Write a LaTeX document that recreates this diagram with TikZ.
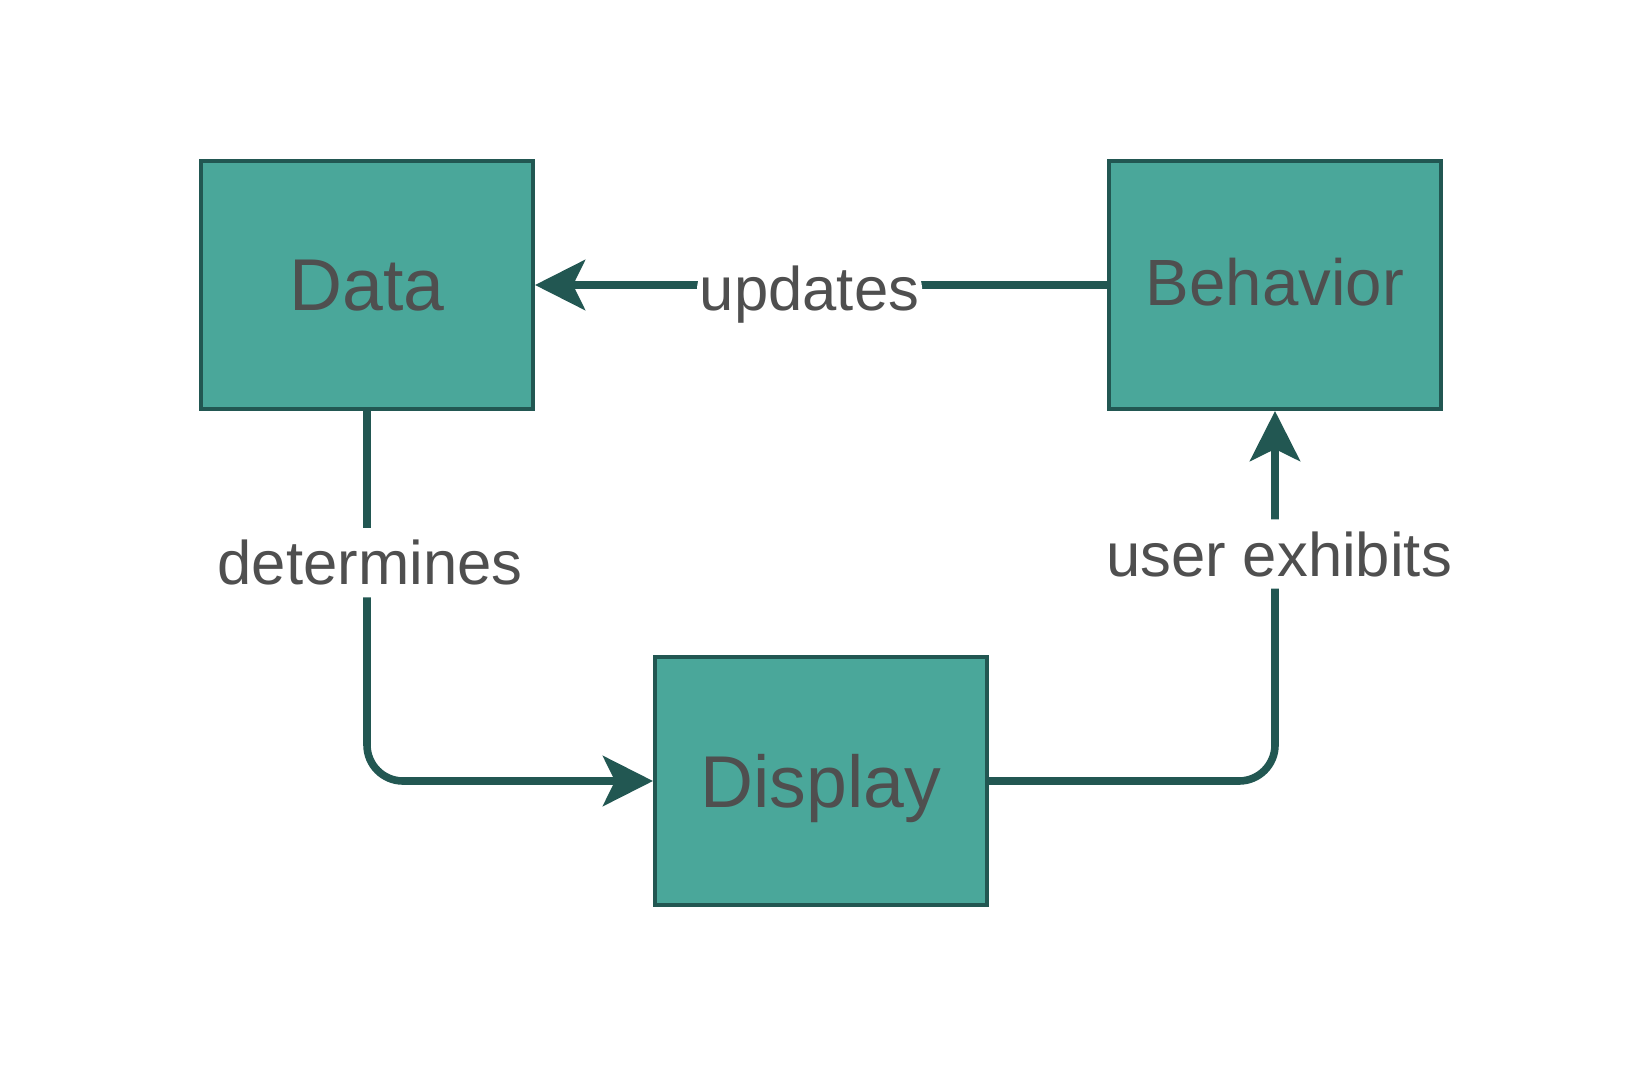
\documentclass[tikz,border=0pt]{standalone}
\usepackage{fontspec}
\setmainfont{Liberation Sans}
\usetikzlibrary{arrows.meta}
\definecolor{boxfill}{HTML}{4AA79A}
\definecolor{boxline}{HTML}{225752}
\definecolor{textgray}{HTML}{4F4F4F}
\tikzset{
    statebox/.style={draw=boxline, line width=2pt, fill=boxfill, text=textgray,
        minimum width=166pt, minimum height=124pt, inner sep=0pt, text depth=0pt},
    flow/.style={draw=boxline, line width=3.8pt, rounded corners=18pt,
        -{Stealth[length=25pt,width=25pt,inset=6pt]}},
    flowlabel/.style={fill=white, text=textgray, font=\fontsize{30.8}{36}\selectfont,
        inner xsep=1.5pt, inner ysep=6pt}
}
\begin{document}
\begin{tikzpicture}[x=0.5pt, y=-0.5pt]
    \useasboundingbox[fill=white] (0,0) rectangle (1641,1065);
    \node[statebox, font=\fontsize{36.7}{44}\selectfont] (data) at (367,285) {Data};
    \node[statebox, font=\fontsize{32.7}{40}\selectfont, text depth=3.2pt] (behavior) at (1275,285) {Behavior};
    \node[statebox, font=\fontsize{36.7}{44}\selectfont] (display) at (821,781) {Display};
    % connectors
    \draw[flow] (behavior) -- node[flowlabel, pos=0.52, yshift=-5pt] {updates} (data);
    \draw[flow] (data.south) |- node[flowlabel, pos=0.205, xshift=1.5pt] {determines} (display.west);
    \draw[flow] (display.east) -| node[flowlabel, pos=0.8, xshift=2pt, yshift=2.5pt] {user exhibits} (behavior.south);
\end{tikzpicture}
\end{document}
